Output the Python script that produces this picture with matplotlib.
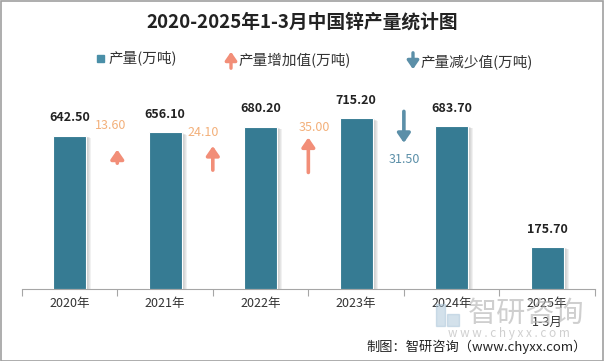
import matplotlib
matplotlib.use('Agg')
import matplotlib.pyplot as plt
from matplotlib.patches import Rectangle, FancyArrowPatch
import numpy as np

plt.rcParams['font.family'] = ['Noto Sans CJK SC', 'DejaVu Sans']

# ---- data ----
years = ['2020年', '2021年', '2022年', '2023年', '2024年', '2025年\n1-3月']
output = [642.50, 656.10, 680.20, 715.20, 683.70, 175.70]
inc_values = [13.60, 24.10, 35.00]
inc_after = [0, 1, 2]          # increase between year i and i+1
dec_values = [31.50]
dec_after = [3]

# ---- styles ----
BAR_C = '#367B93'
UP_C = '#F28E78'
UP_TXT = '#F3B07A'
DN_C = '#5B8FA8'
DN_TXT = '#5B8FA8'
ARROW_SCALE = 4.2   # data units per unit of change (visual length)
ASTYLE = '-|>,head_width=0.38,head_length=0.55'

fig = plt.figure(figsize=(6.04, 3.61), dpi=100)
ax = fig.add_axes([0.036, 0.2008, 0.949, 0.5776])

x = np.arange(len(years))
w = 0.345
px = 1 / 95.6  # one pixel in x data units

# shadow
for i in range(1, 6):
    ax.bar(x + i * px, [v - 2 * i for v in output], width=w,
           color='#7a7a7a', alpha=0.10, linewidth=0, zorder=1)
ax.bar(x, output, width=w, color=BAR_C, edgecolor='white', linewidth=0.8, zorder=3)

for xi, v in zip(x, output):
    ax.annotate(f'{v:.2f}', (xi, v), xytext=(0, 8), textcoords='offset points',
                ha='center', va='bottom', fontsize=9, fontweight='bold', color='#222222')

# increase arrows
up_center = [555, 548, 561]
up_lab = [(-0.07, 683), (-0.10, 656), (0.06, 676)]
for k, (val, i) in enumerate(zip(inc_values, inc_after)):
    bx = i + 0.5
    L = val * ARROW_SCALE
    c = up_center[k]
    ax.annotate('', xy=(bx, c + L / 2), xytext=(bx, c - L / 2),
                arrowprops=dict(arrowstyle=ASTYLE, color=UP_C, lw=2.6,
                                shrinkA=0, shrinkB=0, mutation_scale=10), zorder=4)
    ax.text(bx + up_lab[k][0], up_lab[k][1], f'{val:.2f}', ha='center', va='center',
            fontsize=9, color=UP_TXT)

dn_center = [678]
for k, (val, i) in enumerate(zip(dec_values, dec_after)):
    bx = i + 0.5
    L = val * ARROW_SCALE
    c = dn_center[k]
    ax.annotate('', xy=(bx, c - L / 2), xytext=(bx, c + L / 2),
                arrowprops=dict(arrowstyle=ASTYLE, color=DN_C, lw=2.6,
                                shrinkA=0, shrinkB=0, mutation_scale=10), zorder=4)
    ax.text(bx, 540, f'{val:.2f}', ha='center', va='center', fontsize=9, color=DN_TXT)

ax.set_xlim(-0.5, len(years) - 0.5)
ax.set_ylim(0, 876)
for s in ['top', 'right', 'left']:
    ax.spines[s].set_visible(False)
ax.spines['bottom'].set_color('#A6A6A6')
ax.set_yticks([])
ax.set_xticks(np.arange(-0.5, len(years)), minor=False)
ax.set_xticklabels([])
ax.tick_params(axis='x', which='major', length=5, color='#A6A6A6')
ax.set_xticks(x, minor=True)
ax.set_xticklabels(years, minor=True, fontsize=9, color='#333333', linespacing=1.6)
ax.tick_params(axis='x', which='minor', length=0, pad=6)
for lab in ax.get_xticklabels(minor=True):
    lab.set_va('top')

# title
fig.text(0.5, 1 - 22 / 361, '2020-2025年1-3月中国锌产量统计图', ha='center', va='center',
         fontsize=13.5, fontweight='bold', color='#222222')

# legend
H, W = 361, 604
fig.patches.append(Rectangle((97 / W, 1 - 62 / H), 7 / W, 7 / H, transform=fig.transFigure,
                             color='#4A8FA8'))
fig.text(108 / W, 1 - 58 / H, '产量(万吨)', ha='left', va='center', fontsize=10.5, color='#333333')
fig.add_artist(FancyArrowPatch((231 / W, 1 - 71 / H), (231 / W, 1 - 49 / H),
               transform=fig.transFigure, arrowstyle=ASTYLE,
               mutation_scale=9, color=UP_C, lw=2.4))
fig.text(238 / W, 1 - 61 / H, '产量增加值(万吨)', ha='left', va='center', fontsize=10.5, color='#333333')
fig.add_artist(FancyArrowPatch((413 / W, 1 - 50 / H), (413 / W, 1 - 72 / H),
               transform=fig.transFigure, arrowstyle=ASTYLE,
               mutation_scale=9, color=DN_C, lw=2.4))
fig.text(420 / W, 1 - 62 / H, '产量减少值(万吨)', ha='left', va='center', fontsize=10.5, color='#333333')

# watermark
fig.text(526 / W, 1 - 314 / H, '智研咨询', ha='center', va='center', fontsize=21,
         color='#B0B0B0', alpha=0.6)
fig.text(509 / W, 1 - 334 / H, 'w w w . c h y x x . c o m', ha='center', va='center',
         fontsize=8.5, color='#B0B0B0', alpha=0.6)
fig.patches.append(Rectangle((436 / W, 1 - 326 / H), 9 / W, 22 / H, transform=fig.transFigure,
                             color='#A8C4D8', alpha=0.5))
fig.patches.append(Rectangle((447 / W, 1 - 326 / H), 12 / W, 12 / H, transform=fig.transFigure,
                             color='#A8C4D8', alpha=0.5))

# footer
fig.text(587 / W, 1 - 347 / H, '制图：智研咨询（www.chyxx.com）', ha='right', va='center',
         fontsize=9.5, color='#222222')

# border
fig.patches.append(Rectangle((0.001, 0.001), 0.997, 0.996, transform=fig.transFigure,
                             fill=False, edgecolor='#A0A0A0', lw=1.2))

fig.savefig('out.png', dpi=100)
